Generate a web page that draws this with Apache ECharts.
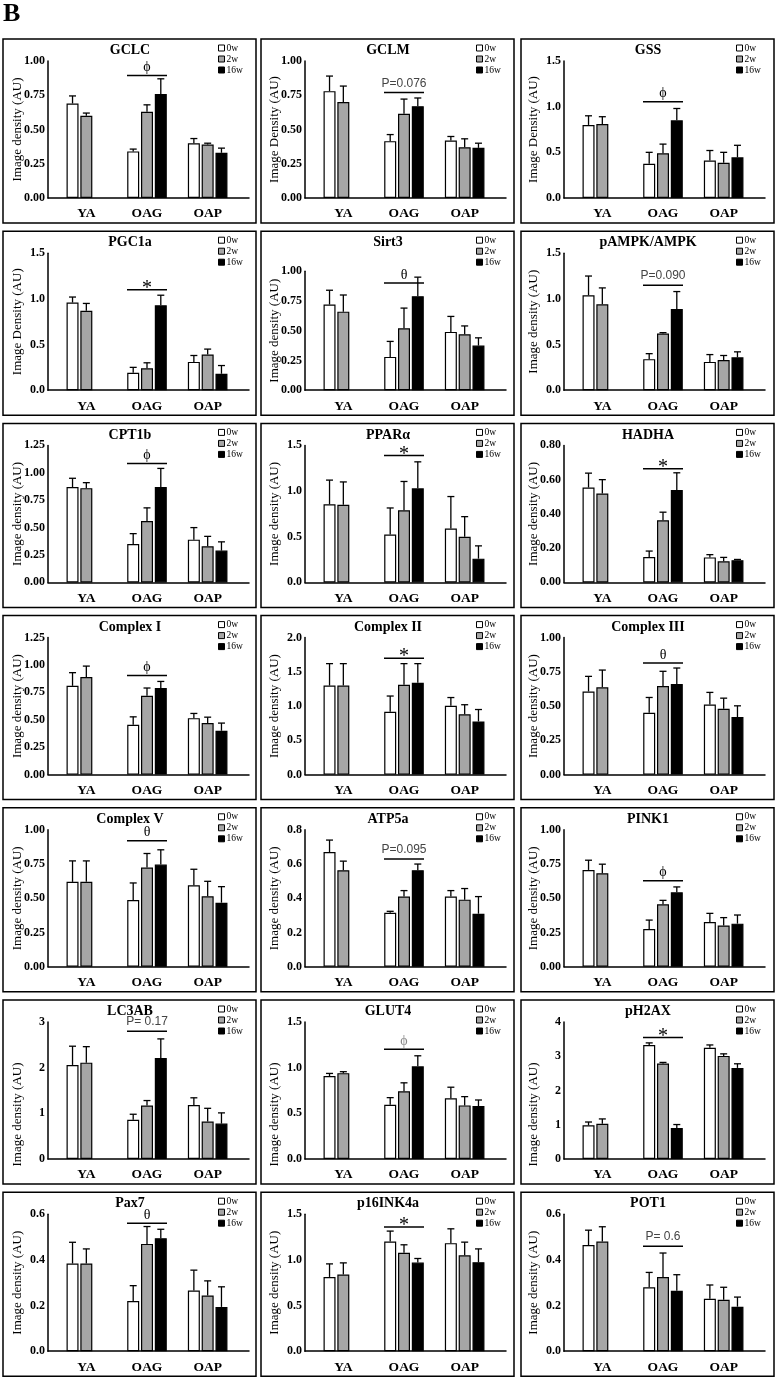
<!DOCTYPE html>
<html><head><meta charset="utf-8">
<script src="https://cdn.jsdelivr.net/npm/echarts@6/dist/echarts.min.js"></script>
<style>html,body{margin:0;padding:0;background:#fff}#c{width:776px;height:1377px}</style>
</head><body><div id="c"></div>
<script>
// ---------- DATA ----------
const categories = ['YA', 'OAG', 'OAP'];
const weeks = ['0w', '2w', '16w'];
const titles = ['GCLC','GCLM','GSS','PGC1a','Sirt3','pAMPK/AMPK','CPT1b','PPARα','HADHA',
  'Complex I','Complex II','Complex III','Complex V','ATP5a','PINK1','LC3AB','GLUT4','pH2AX',
  'Pax7','p16INK4a','POT1'];
const yNames = ['Image density (AU)','Image Density (AU)','Image Density (AU)','Image Density (AU)',
  'Image density (AU)','Image density (AU)','Image density (AU)','Image density (AU)','Image density (AU)',
  'Image density (AU)','Image density (AU)','Image density (AU)','Image density (AU)','Image density (AU)',
  'Image density (AU)','Image density (AU)','Image density (AU)','Image density (AU)','Image density (AU)',
  'Image density (AU)','Image density (AU)'];
const yMax      = [1, 1, 1.5, 1.5, 1, 1.5, 1.25, 1.5, 0.8, 1.25, 2, 1, 1, 0.8, 1, 3, 1.5, 4, 0.6, 1.5, 0.6];
const yStep     = [0.25, 0.25, 0.5, 0.5, 0.25, 0.5, 0.25, 0.5, 0.2, 0.25, 0.5, 0.25, 0.25, 0.2, 0.25, 1, 0.5, 1, 0.2, 0.5, 0.2];
const tickDecimals = [2, 2, 1, 1, 2, 1, 2, 1, 2, 2, 1, 2, 2, 1, 2, 0, 1, 0, 1, 1, 1];
const sigLevel  = [0.895, 0.77, 1.055, 1.10, 0.90, 1.15, 1.085, 1.39, 0.663, 0.905, 1.70, 0.815, 0.92, 0.63, 0.629, 2.80, 1.203, 3.55, 0.56, 1.36, 0.46];
const sigLabel  = ['ϕ','P=0.076','ϕ','*','θ','P=0.090','ϕ','*','*','ϕ','*','θ','θ','P=0.095','ϕ','P= 0.17','ϕ','*','θ','*','P= 0.6'];

// means [YA, OAG, OAP] per panel
const mean0w = [
  [0.69,0.34,0.40],[0.78,0.415,0.42],[0.80,0.375,0.41],[0.96,0.19,0.31],[0.72,0.28,0.49],[1.04,0.34,0.31],
  [0.87,0.35,0.39],[0.855,0.525,0.59],[0.554,0.148,0.146],[0.81,0.455,0.515],[1.30,0.917,1.005],[0.607,0.451,0.512],
  [0.62,0.488,0.595],[0.67,0.316,0.41],[0.707,0.276,0.327],[2.06,0.86,1.18],[0.908,0.594,0.664],[0.985,3.33,3.25],
  [0.384,0.22,0.266],[0.813,1.20,1.183],[0.465,0.28,0.23]];
const err0w = [
  [0.055,0.017,0.034],[0.11,0.048,0.029],[0.10,0.125,0.11],[0.06,0.06,0.07],[0.12,0.13,0.13],[0.21,0.06,0.08],
  [0.08,0.095,0.11],[0.265,0.29,0.35],[0.084,0.035,0.016],[0.12,0.072,0.043],[0.32,0.23,0.12],[0.11,0.112,0.088],
  [0.153,0.124,0.117],[0.07,0.008,0.035],[0.071,0.065,0.063],[0.41,0.12,0.16],[0.029,0.078,0.122],[0.095,0.06,0.08],
  [0.093,0.067,0.089],[0.143,0.115,0.157],[0.065,0.065,0.06]];
const mean2w = [
  [0.60,0.63,0.39],[0.70,0.615,0.37],[0.81,0.49,0.386],[0.87,0.24,0.39],[0.66,0.52,0.47],[0.94,0.62,0.33],
  [0.86,0.56,0.33],[0.85,0.79,0.50],[0.519,0.363,0.123],[0.89,0.72,0.47],[1.30,1.31,0.88],[0.637,0.646,0.48],
  [0.62,0.724,0.515],[0.564,0.41,0.392],[0.683,0.456,0.302],[2.11,1.17,0.82],[0.94,0.742,0.587],[1.03,2.79,3.01],
  [0.384,0.47,0.244],[0.839,1.077,1.05],[0.48,0.325,0.225]];
const err2w = [
  [0.02,0.05,0.01],[0.117,0.107,0.062],[0.08,0.10,0.114],[0.08,0.06,0.06],[0.14,0.17,0.07],[0.18,0.01,0.05],
  [0.05,0.12,0.09],[0.25,0.315,0.22],[0.081,0.047,0.023],[0.10,0.07,0.054],[0.32,0.31,0.14],[0.126,0.108,0.078],
  [0.153,0.103,0.109],[0.053,0.035,0.065],[0.066,0.029,0.057],[0.35,0.11,0.29],[0.016,0.092,0.096],[0.14,0.03,0.06],
  [0.064,0.076,0.064],[0.128,0.088,0.144],[0.065,0.105,0.055]];
const mean16w = [
  [null,0.76,0.33],[null,0.67,0.366],[null,0.85,0.445],[null,0.93,0.18],[null,0.79,0.375],[null,0.89,0.36],
  [null,0.87,0.29],[null,1.03,0.26],[null,0.54,0.13],[null,0.79,0.40],[null,1.34,0.776],[null,0.661,0.42],
  [null,0.746,0.468],[null,0.564,0.31],[null,0.544,0.315],[null,2.21,0.775],[null,1.015,0.579],[null,0.906,2.66],
  [null,0.495,0.194],[null,0.97,0.974],[null,0.265,0.195]];
const err16w = [
  [null,0.11,0.034],[null,0.06,0.034],[null,0.13,0.132],[null,0.11,0.09],[null,0.16,0.065],[null,0.19,0.06],
  [null,0.17,0.08],[null,0.29,0.14],[null,0.10,0.004],[null,0.06,0.07],[null,0.28,0.174],[null,0.117,0.082],
  [null,0.108,0.117],[null,0.036,0.10],[null,0.039,0.063],[null,0.42,0.235],[null,0.115,0.067],[null,0.10,0.12],
  [null,0.039,0.088],[null,0.045,0.146],[null,0.07,0.042]];

// ---------- LAYOUT / STYLE ----------
const SERIF = '"Liberation Serif","Times New Roman",serif';
const SANS = '"Liberation Sans",Arial,sans-serif';
const means = [mean0w, mean2w, mean16w];
const errs = [err0w, err2w, err16w];
const fills = ['#ffffff', '#a6a6a6', '#000000'];
const colX = [3, 261, 521];
const axisOff = [45, 44, 43];
const rowY0 = 39, rowPitch = 192.2, boxW = 253, boxH = 184;
const nameShiftRow = [0, 0, 0, 0, 0, 24, 0];   // y-axis title shifted downwards (px) per row
const BAR_W = 12, BAR_GAP = 0.15, SLOT = BAR_W * (1 + BAR_GAP);

const grid = [], xAxis = [], yAxis = [], series = [], title = [], legend = [], graphic = [];
graphic.push({type:'text', left: 3, top: 1, style:{text:'B', font:'bold 26px ' + SERIF, fill:'#000'}});

titles.forEach((t, i) => {
  const r = Math.floor(i / 3), c = i % 3;
  const bx = colX[c], by = rowY0 + r * rowPitch;
  const axL = bx + axisOff[c];
  const top = by + (i === 4 ? 40 : 22);
  const bottom = by + 159;
  graphic.push({type:'rect', shape:{x: bx, y: by, width: boxW, height: boxH},
    style:{fill:'none', stroke:'#000', lineWidth:1.5}, z: 1});
  grid.push({left: axL, top: top, width: 201, height: bottom - top});
  grid.push({left: axL + 8, top: top, width: 182, height: bottom - top});
  const gF = 2 * i, gB = 2 * i + 1;
  const shift = nameShiftRow[r];
  xAxis.push({gridIndex: gF, type:'value', min:0, max:1, axisLine:{show:true, lineStyle:{color:'#000', width:1.5}},
    axisTick:{show:false}, axisLabel:{show:false}, splitLine:{show:false}});
  yAxis.push({gridIndex: gF, type:'value', min:0, max:yMax[i], interval:yStep[i],
    axisLine:{show:true, lineStyle:{color:'#000', width:1.5}},
    axisTick:{show:false},
    axisLabel:{color:'#000', fontFamily:SERIF, fontWeight:'bold', fontSize:12, margin:3,
      formatter: v => v.toFixed(tickDecimals[i])},
    splitLine:{show:false},
    name: yNames[i], nameLocation:'middle', nameGap: 24, nameMoveOverlap: false,
    nameTextStyle:{color:'#000', fontFamily:SERIF, fontSize:13, padding:[0, 2 * shift, 0, 0]}});
  xAxis.push({gridIndex: gB, type:'category', data: categories, axisLine:{show:false}, axisTick:{show:false},
    axisLabel:{color:'#000', fontFamily:SERIF, fontWeight:'bold', fontSize:13.5, margin:9}});
  yAxis.push({gridIndex: gB, type:'value', min:0, max:yMax[i], show:false});
  weeks.forEach((w, k) => {
    series.push({type:'bar', name:w, xAxisIndex:gB, yAxisIndex:gB, data: means[k][i],
      barWidth: BAR_W, barGap: (BAR_GAP * 100) + '%', silent:true, animation:false,
      itemStyle:{color: fills[k], borderColor:'#000', borderWidth:1.2}});
  });
  const eData = [];
  weeks.forEach((w, k) => categories.forEach((cat, ci) => {
    if (means[k][i][ci] != null) eData.push([ci, k, means[k][i][ci], errs[k][i][ci]]);
  }));
  series.push({type:'custom', xAxisIndex:gB, yAxisIndex:gB, data:eData, silent:true, animation:false,
    encode:{x:0, y:2}, z:5,
    renderItem:(p, api) => {
      const ci = api.value(0), k = api.value(1), m = api.value(2), e = api.value(3);
      const b = api.coord([ci, m]), tp = api.coord([ci, m + e]);
      const x = b[0] + (k - 1) * SLOT;
      return {type:'group', children:[
        {type:'line', shape:{x1:x, y1:b[1], x2:x, y2:tp[1]}, style:{stroke:'#000', lineWidth:1.3}},
        {type:'line', shape:{x1:x - 3.5, y1:tp[1], x2:x + 3.5, y2:tp[1]}, style:{stroke:'#000', lineWidth:1.3}}]};
    }});
  const lab = sigLabel[i];
  const isP = lab.startsWith('P');
  const isStar = lab === '*';
  const lift = isP ? 9 : (isStar ? 1 : 8);
  series.push({type:'custom', xAxisIndex:gB, yAxisIndex:gB, data:[[1, sigLevel[i]]], silent:true, animation:false,
    encode:{x:0, y:1}, z:5,
    renderItem:(p, api) => {
      const pt = api.coord([api.value(0), api.value(1)]);
      return {type:'group', children:[
        {type:'line', shape:{x1:pt[0] - 20, y1:pt[1], x2:pt[0] + 20, y2:pt[1]}, style:{stroke:'#000', lineWidth:1.5}},
        {type:'text', x:pt[0], y:pt[1] - lift, style:{text: lab, align:'center', verticalAlign:'middle',
          fontFamily: isP ? SANS : SERIF, fontSize: isP ? 12 : (isStar ? 20 : 14),
          fill: isP ? '#444' : (i === 16 ? '#888' : '#000')}}]};
    }});
  title.push({text: t, left: bx + 127, top: by + 4.5, textAlign:'center', padding:0,
    textStyle:{fontFamily:SERIF, fontWeight:'bold', fontSize:14, color:'#000'}});
  legend.push({orient:'vertical', left: bx + 215, top: by + 4, padding:0, itemWidth:6, itemHeight:6, itemGap:1,
    selectedMode:false, icon:'rect',
    data: weeks.map((w, k) => ({name:w, itemStyle:{color:fills[k], borderColor:'#000', borderWidth:1}})),
    textStyle:{fontFamily:SERIF, fontSize:9.5, color:'#000', lineHeight:10, padding:[0,0,0,-3]}});
});

const chart = echarts.init(document.getElementById('c'), null, {renderer:'canvas'});
chart.setOption({backgroundColor:'#fff', animation:false, grid, xAxis, yAxis, series, title, legend, graphic});
</script></body></html>
